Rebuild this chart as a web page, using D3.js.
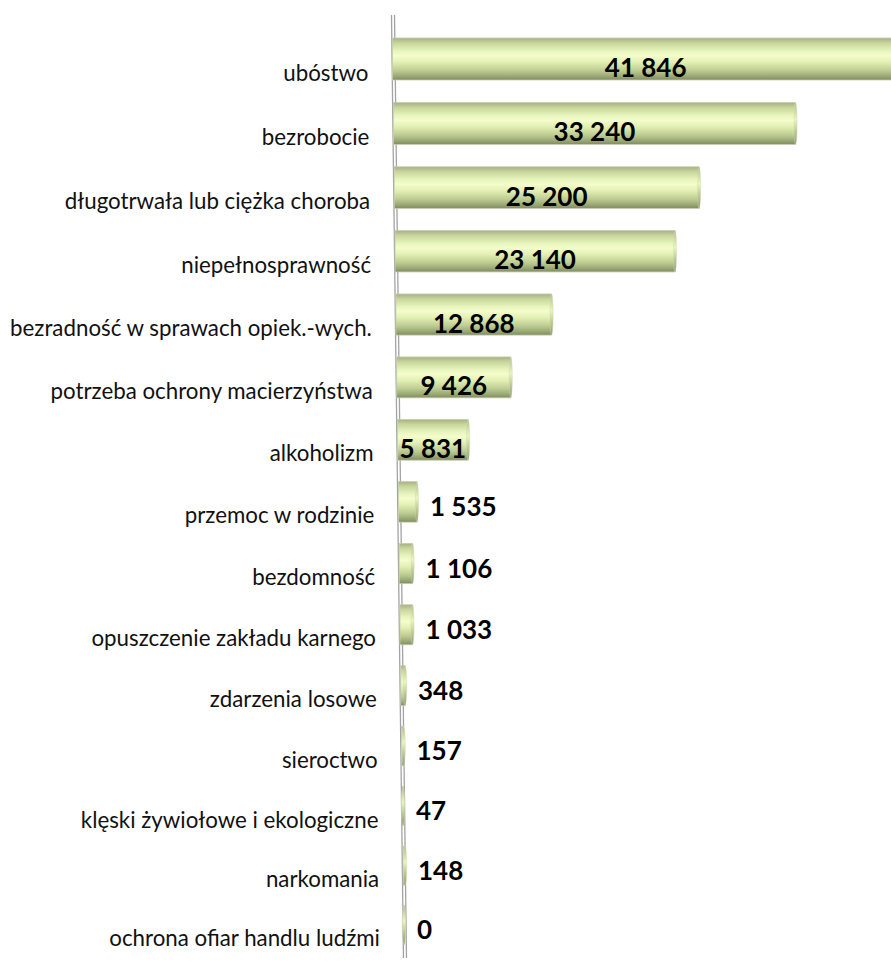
<!DOCTYPE html>
<html>
<head>
<meta charset="utf-8">
<script src="https://cdn.jsdelivr.net/npm/d3@7"></script>
<style>
  html, body { margin: 0; padding: 0; background: #fff; }
  svg { display: block; }
</style>
</head>
<body>
<svg id="chart" width="891" height="961"></svg>
<script>
const categories = [
  "ubóstwo",
  "bezrobocie",
  "długotrwała lub ciężka choroba",
  "niepełnosprawność",
  "bezradność w sprawach opiek.-wych.",
  "potrzeba ochrony macierzyństwa",
  "alkoholizm",
  "przemoc w rodzinie",
  "bezdomność",
  "opuszczenie zakładu karnego",
  "zdarzenia losowe",
  "sieroctwo",
  "klęski żywiołowe i ekologiczne",
  "narkomania",
  "ochrona ofiar handlu ludźmi"
];
const values = [41846, 33240, 25200, 23140, 12868, 9426, 5831, 1535, 1106, 1033, 348, 157, 47, 148, 0];

const W = 891, H = 961;
const svg = d3.select("#chart");
svg.append("rect").attr("width", W).attr("height", H).attr("fill", "#fff");

// band scale over categories (depth units), then a mild perspective projection to screen y
const band = d3.scaleBand().domain(categories).range([0, categories.length]).paddingInner(0).paddingOuter(0);
function centerY(c) { const u = band(c); return 59 + 64.7 * u - 0.204 * u * u; }
function barH(c) { return 42 - 0.22 * band(c); }
// axis base x drifts right with perspective
const baseX = d3.scaleLinear().domain([59, 925]).range([392.5, 404]);
// value scale (length in px)
const x = d3.scaleLinear().domain([0, 10000]).range([0, 121]);

// gradient
const defs = svg.append("defs");
const g = defs.append("linearGradient").attr("id", "cyl").attr("x1", 0).attr("y1", 0).attr("x2", 0).attr("y2", 1);
[["0%", "#a6b07f"], ["12%", "#c8d69c"], ["30%", "#e6f4bc"], ["42%", "#f4fdcc"], ["58%", "#e2efb2"], ["78%", "#bccb92"], ["92%", "#98a672"], ["100%", "#7f8b5e"]]
  .forEach(([o, c]) => g.append("stop").attr("offset", o).attr("stop-color", c));
const gc = defs.append("linearGradient").attr("id", "cap").attr("x1", 0).attr("y1", 0).attr("x2", 0).attr("y2", 1);
[["0%", "#b3be8c"], ["40%", "#e8f5bc"], ["100%", "#8e9b68"]]
  .forEach(([o, c]) => gc.append("stop").attr("offset", o).attr("stop-color", c));

// axis wall (double line)
const axisTop = 15, axisBot = 958;
const axX = d3.scaleLinear().domain([axisTop, axisBot]).range([391.5, 403.5]);
[0, 3].forEach(dx => {
  svg.append("line")
    .attr("x1", axX(axisTop) + dx).attr("y1", axisTop)
    .attr("x2", axX(axisBot) + dx).attr("y2", axisBot)
    .attr("stroke", "#a3a3a3").attr("stroke-width", 1.3);
});

const rows = categories.map((c, i) => ({ c, v: values[i] }));

// category labels
svg.append("g").selectAll("text").data(rows).join("text")
  .attr("x", d => baseX(centerY(d.c)) - 24)
  .attr("y", d => centerY(d.c) + 13)
  .attr("text-anchor", "end")
  .attr("dominant-baseline", "central")
  .attr("font-family", "Lato, 'Open Sans', sans-serif")
  .attr("font-size", 22.3)
  .attr("fill", "#111")
  .text(d => d.c);

// bars
const bars = svg.append("g").selectAll("g").data(rows).join("g");
bars.append("rect")
  .attr("x", d => baseX(centerY(d.c)))
  .attr("y", d => centerY(d.c) - barH(d.c) / 2)
  .attr("width", d => Math.max(0.5, x(d.v)))
  .attr("height", d => barH(d.c))
  .attr("fill", "url(#cyl)")
  .attr("stroke", "#c5ccb2").attr("stroke-width", 0.8);
// right end cap
bars.append("ellipse")
  .attr("cx", d => baseX(centerY(d.c)) + x(d.v))
  .attr("cy", d => centerY(d.c))
  .attr("rx", d => d.v < 1000 ? 1.8 : 1.6)
  .attr("ry", d => barH(d.c) / 2)
  .attr("fill", "url(#cap)")
  .attr("stroke", "#d0d6c0").attr("stroke-width", 0.4);

// value labels
const fmt = v => d3.format(",")(v).replace(/,/g, " ");
const vfont = "Lato, 'Open Sans', sans-serif";
const labels = svg.append("g").selectAll("text").data(rows).join("text")
  .attr("font-family", vfont)
  .attr("font-weight", "bold")
  .attr("font-size", 26)
  .attr("fill", "#000")
  .attr("dominant-baseline", "central")
  .text(d => fmt(d.v));
labels.each(function (d) {
  const w = this.getComputedTextLength();
  const len = x(d.v);
  const bx = baseX(centerY(d.c));
  const sel = d3.select(this);
  if (len >= w - 2) {
    sel.attr("text-anchor", "middle").attr("x", bx + len / 2).attr("y", centerY(d.c) + 8);
  } else {
    sel.attr("text-anchor", "start").attr("x", bx + len + 13).attr("y", centerY(d.c) + 4);
  }
});
</script>
</body>
</html>
